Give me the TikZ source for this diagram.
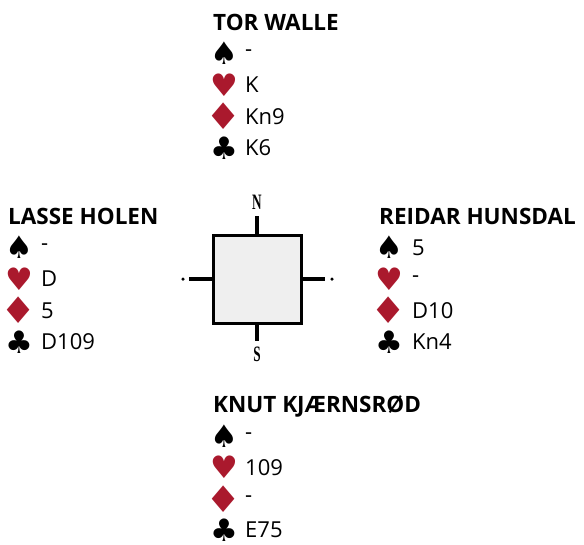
\documentclass[tikz,border=0pt]{standalone}
\usepackage{fontspec}
\setmainfont{Open Sans}
\newfontfamily\suitfont{DejaVu Sans}
\newfontfamily\compassfont{Liberation Serif}
\usepackage{tikz}
\usetikzlibrary{positioning}
\definecolor{cardred}{RGB}{170,25,45}
\definecolor{tablegray}{RGB}{239,239,239}

\tikzset{
  player/.style={anchor=west, inner sep=0pt, font=\fontsize{22.5}{22.5}\selectfont\bfseries},
  suit/.style={anchor=center, inner sep=0pt, font=\suitfont\fontsize{31}{31}\selectfont},
  cards/.style={anchor=west, inner sep=0pt, font=\fontsize{22}{22}\selectfont},
  compass/.style={inner sep=0pt, font=\compassfont\bfseries\fontsize{22}{22}\selectfont},
  tickline/.style={line width=4pt},
}
\newcommand{\widediamond}{\scalebox{1.3}[1.18]{♦}}

\begin{document}
\begin{tikzpicture}[x=1pt, y=-1pt]
  \useasboundingbox (0,0) rectangle (584,544);

  % the table with its four compass ticks
  \draw[tickline] (257,216) coordinate (ntick) -- (257,341) coordinate (stick);
  \draw[tickline] (189,279) coordinate (wtick) -- (325,279) coordinate (etick);
  \node[draw, line width=3pt, fill=tablegray, minimum size=88pt, inner sep=0pt] (table) at (257,279) {};
  \node[compass] (nlabel) at (257,202) {\scalebox{0.6}[1]{N}};
  \node[compass] (slabel) at (257,354) {\scalebox{0.6}[1]{S}};
  \node[circle, fill, inner sep=0pt, minimum size=3.5pt] (wdot) at (183,279) {};
  \node[circle, fill, inner sep=0pt, minimum size=3.5pt] (edot) at (332,279) {};

  % north hand
  \node[player] (north) at (213,22) {TOR WALLE};
  \foreach \s/\col/\c [count=\i] in {♠/black/-, ♥/cardred/K, \widediamond/cardred/Kn9, ♣/black/K6} {
    \node[suit, text=\col] (north-s\i) at (224,22+31.5*\i) {\s};
    \node[cards] (north-c\i) at (245,22+31.5*\i) {\c};
  }

  % west hand
  \node[player] (west) at (8,216) {LASSE HOLEN};
  \foreach \s/\col/\c [count=\i] in {♠/black/-, ♥/cardred/D, \widediamond/cardred/5, ♣/black/D109} {
    \node[suit, text=\col] (west-s\i) at (19,216+31.5*\i) {\s};
    \node[cards] (west-c\i) at (41,216+31.5*\i) {\c};
  }

  % east hand
  \node[player] (east) at (379,216) {REIDAR HUNSDAL};
  \foreach \s/\col/\c [count=\i] in {♠/black/5, ♥/cardred/-, \widediamond/cardred/D10, ♣/black/Kn4} {
    \node[suit, text=\col] (east-s\i) at (389,216+31.5*\i) {\s};
    \node[cards] (east-c\i) at (412,216+31.5*\i) {\c};
  }

  % south hand
  \node[player] (south) at (213,406) {KNUT KJÆRNSRØD};
  \foreach \s/\col/\c [count=\i] in {♠/black/-, ♥/cardred/109, \widediamond/cardred/-, ♣/black/E75} {
    \node[suit, text=\col] (south-s\i) at (224,405+31.3*\i) {\s};
    \node[cards] (south-c\i) at (245,405+31.3*\i) {\c};
  }
\end{tikzpicture}
\end{document}
